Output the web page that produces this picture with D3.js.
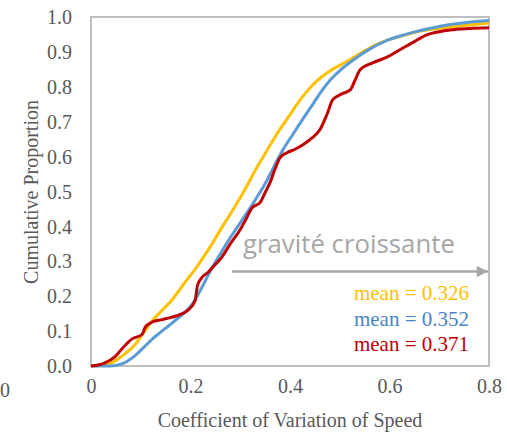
<!DOCTYPE html>
<html><head><meta charset="utf-8">
<script src="https://cdn.jsdelivr.net/npm/d3@7"></script>
<style>body{margin:0;background:#fff}svg{display:block}</style>
</head><body>
<svg id="c" width="507" height="432"></svg>
<script>
// ---- data ----
const xTicks = [0, 0.2, 0.4, 0.6, 0.8];
const xTickLabels = ["0", "0.2", "0.4", "0.6", "0.8"];
const yTicks = [0, 0.1, 0.2, 0.3, 0.4, 0.5, 0.6, 0.7, 0.8, 0.9, 1.0];
const yTickLabels = ["0.0","0.1","0.2","0.3","0.4","0.5","0.6","0.7","0.8","0.9","1.0"];
const seriesNames = ["yellow", "blue", "red"];
const meanLabels = ["mean = 0.326", "mean = 0.352", "mean = 0.371"];
const yellowCV = [0, 0.02, 0.04, 0.054, 0.07, 0.088, 0.105, 0.123, 0.143, 0.163, 0.189, 0.209, 0.225, 0.242, 0.26, 0.283, 0.306, 0.33, 0.354, 0.376, 0.398, 0.42, 0.446, 0.48, 0.515, 0.55, 0.581, 0.615, 0.647, 0.68, 0.716, 0.76, 0.8];
const yellowP  = [0, 0.002, 0.008, 0.02, 0.037, 0.06, 0.094, 0.129, 0.16, 0.19, 0.24, 0.277, 0.31, 0.347, 0.39, 0.442, 0.497, 0.56, 0.618, 0.67, 0.716, 0.762, 0.806, 0.845, 0.873, 0.903, 0.926, 0.942, 0.955, 0.964, 0.97, 0.977, 0.983];
const blueCV = [0, 0.038, 0.062, 0.088, 0.105, 0.123, 0.14, 0.155, 0.172, 0.189, 0.205, 0.218, 0.23, 0.245, 0.262, 0.279, 0.297, 0.314, 0.332, 0.35, 0.368, 0.386, 0.405, 0.426, 0.445, 0.463, 0.48, 0.503, 0.527, 0.56, 0.595, 0.62, 0.647, 0.68, 0.716, 0.76, 0.8];
const blueP  = [0, 0, 0.006, 0.029, 0.052, 0.077, 0.097, 0.114, 0.134, 0.154, 0.18, 0.212, 0.245, 0.286, 0.326, 0.366, 0.404, 0.44, 0.48, 0.522, 0.572, 0.62, 0.662, 0.708, 0.748, 0.787, 0.818, 0.85, 0.877, 0.908, 0.933, 0.945, 0.956, 0.967, 0.977, 0.985, 0.99];
const redCV = [0, 0.028, 0.048, 0.062, 0.082, 0.103, 0.109, 0.123, 0.143, 0.163, 0.18, 0.195, 0.209, 0.214, 0.222, 0.235, 0.248, 0.262, 0.28, 0.3, 0.313, 0.323, 0.34, 0.35, 0.36, 0.37, 0.38, 0.394, 0.41, 0.426, 0.443, 0.46, 0.474, 0.486, 0.503, 0.521, 0.531, 0.541, 0.567, 0.595, 0.621, 0.648, 0.675, 0.7, 0.722, 0.76, 0.8];
const redP  = [0, 0.009, 0.026, 0.049, 0.077, 0.091, 0.111, 0.126, 0.133, 0.14, 0.148, 0.16, 0.186, 0.23, 0.252, 0.268, 0.288, 0.31, 0.35, 0.391, 0.425, 0.452, 0.469, 0.497, 0.526, 0.565, 0.597, 0.611, 0.621, 0.634, 0.652, 0.677, 0.72, 0.763, 0.779, 0.791, 0.82, 0.849, 0.869, 0.885, 0.906, 0.928, 0.949, 0.958, 0.963, 0.967, 0.969];
const annotation = "gravité croissante";
const xTitle = "Coefficient of Variation of Speed";
const yTitle = "Cumulative Proportion";

// ---- chart ----
const svg = d3.select("#c");
const L = 91, R = 489, T = 17, B = 366;
const x = d3.scaleLinear().domain([0, 0.8]).range([L, R]);
const y = d3.scaleLinear().domain([0, 1]).range([B, T]);
const serif = "'Liberation Serif','Times New Roman',serif";
const tickColor = "#595959";

// frame
svg.append("rect").attr("x", L).attr("y", T).attr("width", R - L).attr("height", B - T)
  .attr("fill", "none").attr("stroke", "#bfbfbf").attr("stroke-width", 2);

// y axis
const ya = svg.append("g").attr("transform", `translate(${L},0)`)
  .call(d3.axisLeft(y).tickValues(yTicks).tickFormat((d, i) => yTickLabels[i]).tickSize(0).tickPadding(19));
ya.select(".domain").remove();
ya.selectAll("text").attr("font-family", serif).attr("font-size", 20).attr("fill", tickColor).attr("dy", "0.33em");

// x axis
const xa = svg.append("g").attr("transform", `translate(0,${B})`)
  .call(d3.axisBottom(x).tickValues(xTicks).tickFormat((d, i) => xTickLabels[i]).tickSize(0).tickPadding(13));
xa.select(".domain").remove();
xa.selectAll("text").attr("font-family", serif).attr("font-size", 20).attr("fill", tickColor);

// stray label at far left
svg.append("text").attr("x", 0).attr("y", 397).attr("font-family", serif).attr("font-size", 20)
  .attr("fill", tickColor).text("0");

// titles
svg.append("text").attr("x", (L + R) / 2).attr("y", 427).attr("text-anchor", "middle")
  .attr("font-family", serif).attr("font-size", 20).attr("fill", tickColor).text(xTitle);
svg.append("text").attr("transform", `translate(38,192) rotate(-90)`).attr("text-anchor", "middle")
  .attr("font-family", serif).attr("font-size", 20).attr("fill", tickColor).text(yTitle);

// lines
const colors = {yellow: "#FFC000", blue: "#5B9BD5", red: "#C00000"};
const data = {
  yellow: d3.zip(yellowCV, yellowP),
  blue: d3.zip(blueCV, blueP),
  red: d3.zip(redCV, redP)
};
const line = d3.line().x(d => x(d[0])).y(d => y(d[1])).curve(d3.curveMonotoneX);
seriesNames.forEach(n => {
  svg.append("path").datum(data[n]).attr("d", line).attr("fill", "none")
    .attr("stroke", colors[n]).attr("stroke-width", 3).attr("stroke-linejoin", "round");
});

// annotation
const ann = svg.append("text").attr("x", 243).attr("y", 253)
  .attr("font-family", "'Open Sans','Noto Sans',sans-serif").attr("font-size", 24).attr("fill", "#a6a6a6").text(annotation);
const w = ann.node().getComputedTextLength();
ann.attr("font-size", 24 * 212 / w);
svg.append("defs").append("marker").attr("id", "ah").attr("viewBox", "0 0 10 10")
  .attr("refX", 10).attr("refY", 5).attr("markerWidth", 6).attr("markerHeight", 4.5)
  .attr("markerUnits", "strokeWidth").attr("orient", "auto")
  .append("path").attr("d", "M0,0 L10,5 L0,10 Z").attr("fill", "#a6a6a6");
svg.append("line").attr("x1", 232).attr("x2", 488).attr("y1", 271.5).attr("y2", 271.5)
  .attr("stroke", "#a6a6a6").attr("stroke-width", 2.5).attr("marker-end", "url(#ah)");

// mean labels
seriesNames.forEach((n, i) => {
  svg.append("text").attr("x", 469).attr("y", 300 + i * 25.5).attr("text-anchor", "end")
    .attr("font-family", serif).attr("font-size", 21).attr("fill", colors[n] === "#5B9BD5" ? "#4a86c5" : colors[n])
    .text(meanLabels[i]);
});
</script>
</body></html>
